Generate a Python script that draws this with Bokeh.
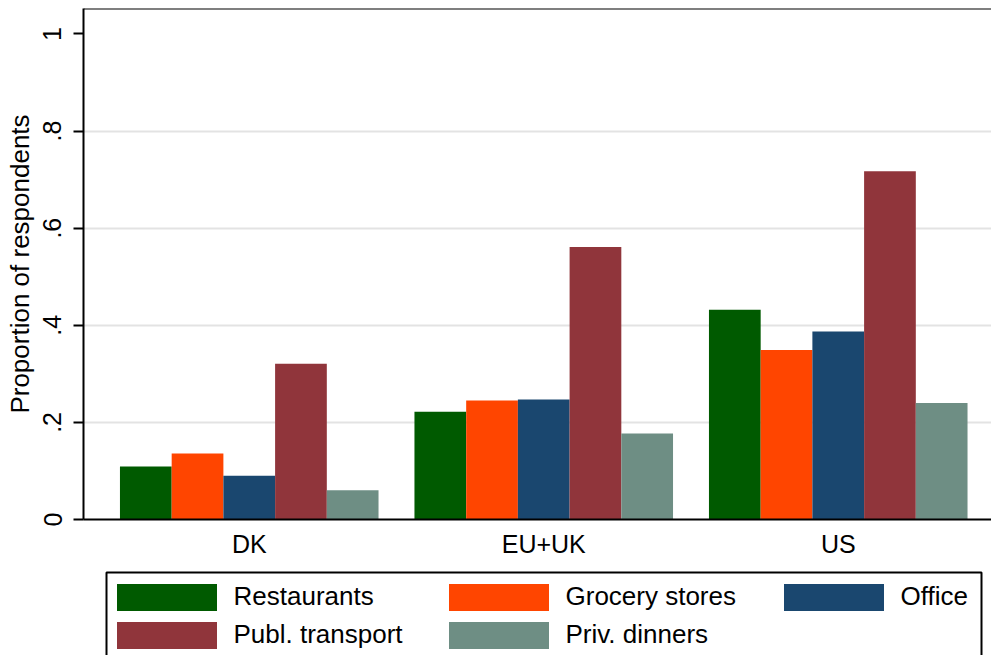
from bokeh.plotting import figure
from bokeh.models import Range1d, FixedTicker, Legend, LegendItem, Span, ColumnDataSource, BoxAnnotation
from bokeh.layouts import column
from bokeh.transform import dodge
from bokeh.embed import file_html
from bokeh.resources import INLINE

# ---- data ----
regions = ["DK", "EU+UK", "US"]
series = ["Restaurants", "Grocery stores", "Office", "Publ. transport", "Priv. dinners"]
restaurants = [0.109, 0.222, 0.432]
grocery_stores = [0.136, 0.245, 0.349]
office = [0.090, 0.247, 0.387]
publ_transport = [0.321, 0.561, 0.717]
priv_dinners = [0.060, 0.177, 0.240]
colors = ["#005a00", "#ff4500", "#1a476f", "#90353b", "#6e8e84"]
y_ticks = [0, 0.2, 0.4, 0.6, 0.8, 1.0]
y_tick_labels = ["0", ".2", ".4", ".6", ".8", "1"]
y_grid = [0, 0.2, 0.4, 0.6, 0.8]

FONT = "Liberation Sans"
y_top = 1.0524
fields = ["restaurants", "grocery_stores", "office", "publ_transport", "priv_dinners"]
bar_w = 0.1756

source = ColumnDataSource(dict(
    x=list(range(len(regions))),
    restaurants=restaurants,
    grocery_stores=grocery_stores,
    office=office,
    publ_transport=publ_transport,
    priv_dinners=priv_dinners,
))

# ---------------- main chart ----------------
p = figure(width=991, height=560, output_backend="svg", toolbar_location=None,
           x_range=Range1d(-0.5628, 2.5204), y_range=Range1d(0, y_top),
           min_border_left=83, min_border_right=0, min_border_top=8, min_border_bottom=40)
p.outline_line_color = None
p.background_fill_color = "white"
p.border_fill_color = "white"

for i, (f, c) in enumerate(zip(fields, colors)):
    p.vbar(x=dodge("x", (i - 2) * bar_w, range=p.x_range), top=f, width=bar_w,
           source=source, fill_color=c, line_color=None)

p.add_layout(Span(location=y_top, dimension="width", line_color="black", line_width=2))

p.xgrid.visible = False
p.ygrid.ticker = FixedTicker(ticks=y_grid)
p.ygrid.grid_line_color = "#e3e3e3"
p.ygrid.grid_line_width = 2

p.xaxis.ticker = FixedTicker(ticks=list(range(len(regions))))
p.xaxis.major_label_overrides = {i: r for i, r in enumerate(regions)}
p.xaxis.major_tick_line_color = None
p.xaxis.minor_tick_line_color = None
p.xaxis.axis_line_width = 2
p.xaxis.axis_line_color = "black"
p.xaxis.major_label_text_font = FONT
p.xaxis.major_label_text_font_size = "25px"
p.xaxis.major_label_text_color = "black"
p.xaxis.major_label_standoff = 4

p.yaxis.ticker = FixedTicker(ticks=y_ticks)
p.yaxis.major_label_overrides = dict(zip(y_ticks, y_tick_labels))
p.yaxis.major_label_orientation = "vertical"
p.yaxis.axis_label = "Proportion of respondents"
p.yaxis.axis_label_text_font = FONT
p.yaxis.axis_label_text_font_size = "26px"
p.yaxis.axis_label_text_font_style = "normal"
p.yaxis.axis_label_text_color = "black"
p.yaxis.axis_label_standoff = 6
p.yaxis.major_label_text_font = FONT
p.yaxis.major_label_text_font_size = "25px"
p.yaxis.major_label_text_color = "black"
p.yaxis.major_label_standoff = 12
p.yaxis.major_tick_out = 10
p.yaxis.major_tick_in = 0
p.yaxis.major_tick_line_width = 2
p.yaxis.minor_tick_line_color = None
p.yaxis.axis_line_width = 2
p.yaxis.axis_line_color = "black"

# ---------------- legend strip ----------------
# frame aligned with the main chart (83..991 px); ranges in pixel units of the strip
lp = figure(width=991, height=95, output_backend="svg", toolbar_location=None,
            x_range=Range1d(0, 908), y_range=Range1d(0, 87),
            x_axis_location=None, y_axis_location=None,
            min_border_left=83, min_border_right=0, min_border_top=8, min_border_bottom=0)
lp.xgrid.visible = False
lp.ygrid.visible = False
lp.outline_line_color = None
lp.background_fill_color = "white"
lp.border_fill_color = "white"
lp.extra_y_ranges = {"hidden": Range1d(10, 11)}

# legend frame box (bottom edge falls outside the view, as in the original)
lp.add_layout(BoxAnnotation(left=23, right=898, top=83, bottom=-5,
                            fill_alpha=0.0, line_color="black", line_width=2, line_alpha=1.0))

leg_r = {}
for i, (f, c) in enumerate(zip(fields, colors)):
    leg_r[f] = lp.vbar(x=dodge("x", (i - 2) * bar_w, range=lp.x_range), top=f, width=bar_w,
                       source=source, fill_color=c, line_color=None, y_range_name="hidden")

common = dict(glyph_width=125, glyph_height=34, label_standoff=5, spacing=4, padding=0,
              margin=0, border_line_color=None, background_fill_alpha=0.0,
              label_text_font=FONT, label_text_font_size="26px", label_text_color="black")

legend_a = Legend(
    items=[LegendItem(label=series[0], renderers=[leg_r[fields[0]]]),
           LegendItem(label=series[1], renderers=[leg_r[fields[1]]]),
           LegendItem(label=series[3], renderers=[leg_r[fields[3]]]),
           LegendItem(label=series[4], renderers=[leg_r[fields[4]]])],
    ncols=2, orientation="horizontal", location=(20.5, 3.4), label_width=198, **common)
legend_b = Legend(
    items=[LegendItem(label=series[2], renderers=[leg_r[fields[2]]])],
    orientation="horizontal", location=(687.5, 41.4), label_width=60, **common)
lp.add_layout(legend_a, "center")
lp.add_layout(legend_b, "center")

open("out.html", "w").write(file_html(column(p, lp), INLINE))
